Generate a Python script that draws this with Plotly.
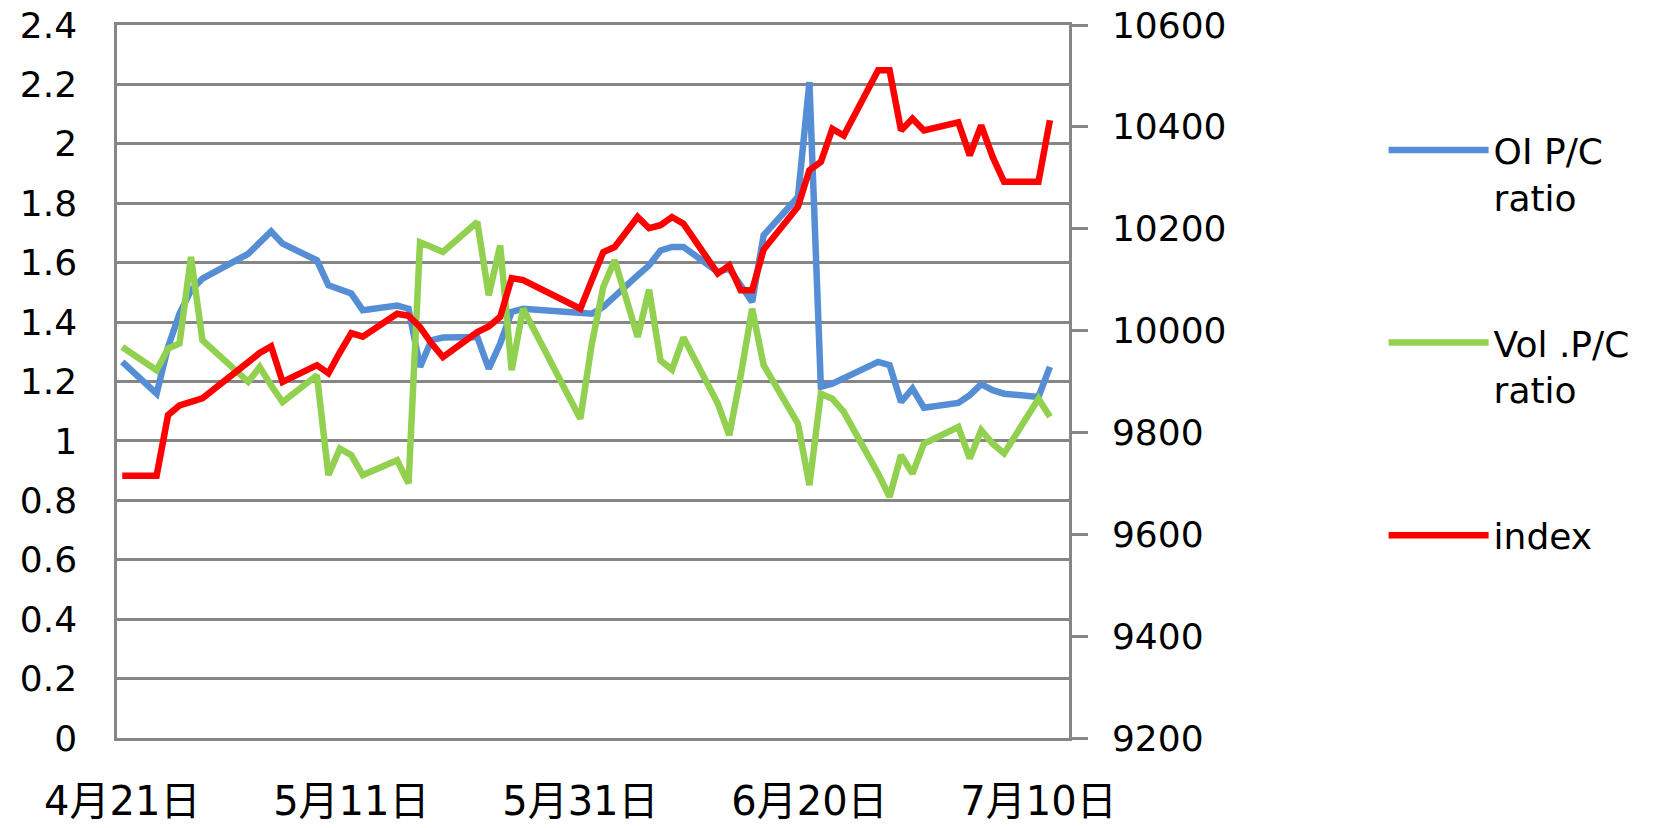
import plotly.graph_objects as go

# ---- data ----
dates = ["2017-04-21", "2017-04-24", "2017-04-25", "2017-04-26", "2017-04-27", "2017-04-28",
         "2017-05-02", "2017-05-03", "2017-05-04", "2017-05-05", "2017-05-08", "2017-05-09",
         "2017-05-10", "2017-05-11", "2017-05-12", "2017-05-15", "2017-05-16", "2017-05-17",
         "2017-05-18", "2017-05-19", "2017-05-22", "2017-05-23", "2017-05-24", "2017-05-25",
         "2017-05-26", "2017-05-31", "2017-06-01", "2017-06-02", "2017-06-03", "2017-06-05",
         "2017-06-06", "2017-06-07", "2017-06-08", "2017-06-09", "2017-06-12", "2017-06-13",
         "2017-06-14", "2017-06-15", "2017-06-16", "2017-06-19", "2017-06-20", "2017-06-21",
         "2017-06-22", "2017-06-23", "2017-06-26", "2017-06-27", "2017-06-28", "2017-06-29",
         "2017-06-30", "2017-07-03", "2017-07-04", "2017-07-05", "2017-07-06", "2017-07-07",
         "2017-07-10", "2017-07-11"]

oi_pc_ratio = [1.266, 1.159, 1.316, 1.428, 1.507, 1.546,
               1.630, 1.665, 1.705, 1.664, 1.608, 1.524,
               1.509, 1.496, 1.440, 1.456, 1.445, 1.249,
               1.339, 1.348, 1.350, 1.243, 1.328, 1.434,
               1.445, 1.428, 1.428, 1.451, 1.484, 1.557,
               1.591, 1.641, 1.653, 1.653, 1.569, 1.580,
               1.524, 1.468, 1.692, 1.821, 2.208, 1.182,
               1.193, 1.210, 1.266, 1.255, 1.131, 1.176,
               1.112, 1.128, 1.154, 1.191, 1.171, 1.159,
               1.148, 1.249]

vol_pc_ratio = [1.316, 1.238, 1.311, 1.328, 1.619, 1.339,
                1.199, 1.249, 1.187, 1.131, 1.221, 0.885,
                0.974, 0.952, 0.885, 0.935, 0.857, 1.669,
                1.653, 1.636, 1.737, 1.490, 1.658, 1.238,
                1.445, 1.075, 1.327, 1.518, 1.608, 1.350,
                1.509, 1.271, 1.240, 1.348, 1.126, 1.019,
                1.220, 1.445, 1.255, 1.058, 0.851, 1.159,
                1.142, 1.098, 0.890, 0.812, 0.952, 0.890,
                0.991, 1.047, 0.941, 1.036, 0.991, 0.958,
                1.142, 1.081]

index_values = [9715, 9715, 9834, 9853, 9860, 9867,
                9938, 9956, 9969, 9899, 9932, 9916,
                9957, 9995, 9988, 10033, 10029, 10007,
                9975, 9948, 9997, 10008, 10027, 10103,
                10099, 10043, 10099, 10154, 10164, 10223,
                10201, 10207, 10223, 10210, 10112, 10128,
                10079, 10079, 10159, 10243, 10315, 10331,
                10396, 10383, 10511, 10511, 10393, 10416,
                10393, 10409, 10344, 10403, 10341, 10292,
                10292, 10413]

x_tick_dates = ["2017-04-21", "2017-05-11", "2017-05-31", "2017-06-20", "2017-07-10"]
x_tick_text = ["4月21日", "5月11日", "5月31日", "6月20日", "7月10日"]

left_tick_vals = [0, 0.2, 0.4, 0.6, 0.8, 1.0, 1.2, 1.4, 1.6, 1.8, 2.0, 2.2, 2.4]
left_tick_text = ["0", "0.2", "0.4", "0.6", "0.8", "1", "1.2", "1.4", "1.6", "1.8", "2", "2.2", "2.4"]

right_tick_vals = [9200, 9400, 9600, 9800, 10000, 10200, 10400, 10600]

series_names = ["OI P/C<br>ratio", "Vol .P/C<br>ratio", "index"]
series_colors = ["#558ED5", "#92D050", "#FF0000"]

GRID = "#868686"
FONT = "DejaVu Sans, Noto Sans CJK JP, sans-serif"
LW = 6.5

fig = go.Figure()
fig.add_trace(go.Scatter(x=dates, y=oi_pc_ratio, name=series_names[0], mode="lines",
                         line=dict(color=series_colors[0], width=LW), legendgroup="g1"))
fig.add_trace(go.Scatter(x=dates, y=vol_pc_ratio, name=series_names[1], mode="lines",
                         line=dict(color=series_colors[1], width=LW), legendgroup="g2"))
fig.add_trace(go.Scatter(x=dates, y=index_values, name=series_names[2], mode="lines",
                         line=dict(color=series_colors[2], width=LW), legendgroup="g3",
                         yaxis="y2"))

fig.update_layout(
    width=1669, height=828,
    margin=dict(l=117, r=600, t=25, b=90, autoexpand=False),
    plot_bgcolor="white", paper_bgcolor="white",
    font=dict(family=FONT, size=36, color="black"),
    showlegend=True,
    xaxis=dict(type="date", range=["2017-04-20 13:00", "2017-07-12 16:00"],
               tickmode="array", tickvals=x_tick_dates, ticktext=x_tick_text,
               showgrid=False, zeroline=False, showline=True, mirror=True,
               linecolor=GRID, linewidth=2.5, automargin=False,
               ticks="", tickfont=dict(size=40, family=FONT), ticklabelstandoff=26),
    yaxis=dict(range=[0, 2.4], tickmode="array", tickvals=left_tick_vals, ticktext=left_tick_text,
               showgrid=True, gridcolor=GRID, gridwidth=2.5, zeroline=False,
               showline=True, linecolor=GRID, linewidth=2.5, ticks="", automargin=False,
               ticklabelstandoff=30),
    yaxis2=dict(range=[9200, 10600], tickmode="array", tickvals=right_tick_vals,
                tickformat="d",
                overlaying="y", side="right", showgrid=False, zeroline=False,
                showline=True, linecolor=GRID, linewidth=2.5, automargin=False,
                ticks="outside", ticklen=16, tickwidth=2.5, tickcolor=GRID,
                ticklabelstandoff=17),
    legend=dict(xref="container", yref="container", x=0.829, y=0.855,
                xanchor="left", yanchor="top", itemwidth=100, valign="top",
                tracegroupgap=96, font=dict(size=36, family=FONT),
                maxheight=780, bgcolor="rgba(0,0,0,0)"),
)

fig.write_html("out.html", config={"displayModeBar": False},
               post_script="document.body.style.margin='0';")
